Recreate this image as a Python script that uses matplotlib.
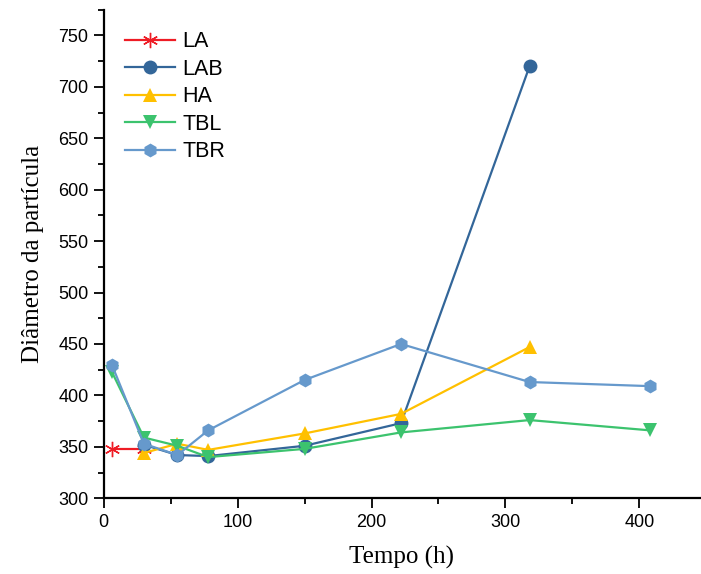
import numpy as np
import matplotlib
matplotlib.use('Agg')
import matplotlib.pyplot as plt

# particle diameter vs time
la_t = [6, 30]
la_d = [348, 348]

lab_t = [30, 55, 78, 150, 222, 318]
lab_d = [352, 342, 341, 351, 373, 720]

ha_t = [30, 55, 78, 150, 222, 318]
ha_d = [344, 353, 347, 363, 382, 447]

tbl_t = [6, 30, 55, 78, 150, 222, 318, 408]
tbl_d = [423, 359, 351, 340, 348, 364, 376, 366]

tbr_t = [6, 30, 55, 78, 150, 222, 318, 408]
tbr_d = [430, 353, 342, 366, 415, 450, 413, 409]

series = [
    ('LA', la_t, la_d, '#EE1C25', (6, 2, 0)),
    ('LAB', lab_t, lab_d, '#336699', 'o'),
    ('HA', ha_t, ha_d, '#FFC000', '^'),
    ('TBL', tbl_t, tbl_d, '#3CC36E', 'v'),
    ('TBR', tbr_t, tbr_d, '#6699CC', 'h'),
]

fig = plt.figure(figsize=(7.01, 5.74), dpi=100)
ax = fig.add_axes([0.148, 0.132, 0.85, 0.851])

for name, t, d, color, marker in series:
    if name == 'LA':
        ms, mew = 11, 1.0
    else:
        ms, mew = 10, 0
    ax.plot(np.array(t), np.array(d), color=color, marker=marker, markersize=ms,
            linewidth=1.6, markeredgewidth=mew, markeredgecolor=color, label=name)

ax.set_xlim(0, 445)
ax.set_ylim(300, 775)
ax.set_xticks([0, 100, 200, 300, 400])
ax.set_xticks([50, 150, 250, 350], minor=True)
ax.set_yticks(np.arange(300, 751, 50))
ax.set_yticks(np.arange(325, 776, 50), minor=True)

for side in ['top', 'right']:
    ax.spines[side].set_visible(False)
for side in ['left', 'bottom']:
    ax.spines[side].set_linewidth(1.6)

ax.tick_params(which='major', direction='out', length=7, width=1.3, pad=4,
               labelsize=13, labelfontfamily='Liberation Sans')
ax.tick_params(which='minor', direction='out', length=4, width=1.3)

ax.set_xlabel('Tempo (h)', fontsize=18, family='Liberation Serif', labelpad=11)
ax.set_ylabel('Diâmetro da partícula', fontsize=18, family='Liberation Serif', labelpad=10)

ax.legend(loc='upper left', bbox_to_anchor=(0.0, 1.0), frameon=False,
          prop={'family': 'Liberation Sans', 'size': 15.5},
          handlelength=2.3, handletextpad=0.35, labelspacing=0.3,
          borderaxespad=0.6)

fig.savefig('out.png', dpi=100)
